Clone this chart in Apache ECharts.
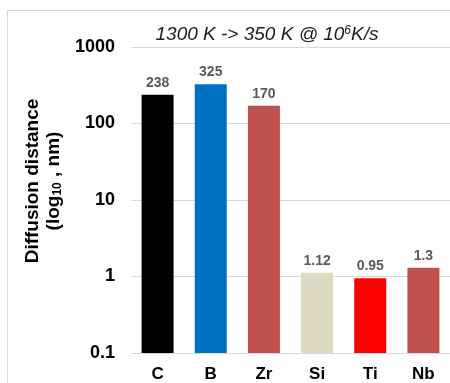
<!DOCTYPE html>
<html><head><meta charset="utf-8">
<script src="https://cdn.jsdelivr.net/npm/echarts@6/dist/echarts.min.js"></script>
<style>html,body{margin:0;padding:0;background:#fff}#c{width:450px;height:383px}</style>
</head><body><div id="c"></div>
<script>
const categories = ['C', 'B', 'Zr', 'Si', 'Ti', 'Nb'];
const values = [238, 325, 170, 1.12, 0.95, 1.3];
const valueLabels = ['238', '325', '170', '1.12', '0.95', '1.3'];
const barColors = ['#000000', '#0070C0', '#C0504D', '#DDD9C3', '#FF0000', '#C0504D'];
const yTickLabels = ['0.1', '1', '10', '100', '1000'];

// log10 scale whose floor is 0.1: axis unit = decades above 0.1
const floorValue = 0.1;
const toAxis = v => Math.log10(v / floorValue);

const chart = echarts.init(document.getElementById('c'));
chart.setOption({
  animation: false,
  backgroundColor: '#fff',
  graphic: [{
    type: 'rect', shape: {x: 7.5, y: 10.5, width: 460, height: 400},
    style: {fill: 'none', stroke: '#d9d9d9', lineWidth: 1}, silent: true, z: -1
  }],
  title: {
    text: '{a|1300 K -> 350 K @ 10}{s|6}{a|K/s}',
    left: 262, top: 20, textAlign: 'center',
    textStyle: {
      fontWeight: 'normal',
      rich: {
        a: {fontFamily: 'Liberation Sans, Arial', fontStyle: 'italic', fontWeight: 'normal', fontSize: 19, color: '#1a1a1a'},
        s: {fontFamily: 'Liberation Sans, Arial', fontStyle: 'italic', fontWeight: 'normal', fontSize: 12, color: '#1a1a1a', verticalAlign: 'top', padding: [0, 0, 8, 0]}
      }
    }
  },
  grid: {left: 131, top: 47, width: 324, bottom: 29, containLabel: false},
  xAxis: {
    type: 'category', data: categories,
    axisLine: {show: false}, axisTick: {show: false},
    axisLabel: {fontFamily: 'Liberation Sans, Arial', fontWeight: 'bold', fontSize: 17, color: '#000', margin: 13}
  },
  yAxis: {
    type: 'value', min: 0, max: yTickLabels.length - 1, interval: 1,
    axisLine: {show: false}, axisTick: {show: false},
    splitLine: {lineStyle: {color: '#d9d9d9', width: 1}},
    axisLabel: {
      fontFamily: 'Liberation Sans, Arial', fontWeight: 'bold', fontSize: 18, color: '#000', margin: 16,
      formatter: v => yTickLabels[Math.round(v)]
    },
    name: '{t|Diffusion distance}\n{t|(log}{sub|10}{t| , nm)}',
    nameLocation: 'middle', nameGap: 66, nameRotate: 90,
    nameTextStyle: {
      align: 'center', lineHeight: 21, padding: [0, 0, 0, 38],
      rich: {
        t: {fontFamily: 'Liberation Sans, Arial', fontWeight: 'bold', fontSize: 19, color: '#000', lineHeight: 21},
        sub: {fontFamily: 'Liberation Sans, Arial', fontWeight: 'bold', fontSize: 12, color: '#000', verticalAlign: 'bottom', lineHeight: 21}
      }
    }
  },
  series: [{
    type: 'bar', barWidth: 32,
    data: values.map((v, i) => ({value: toAxis(v), itemStyle: {color: barColors[i]}})),
    label: {
      show: true, position: 'top', distance: 5,
      fontFamily: 'Liberation Sans, Arial', fontWeight: 'bold', fontSize: 14, color: '#595959',
      formatter: p => valueLabels[p.dataIndex]
    }
  }]
});
</script></body></html>
